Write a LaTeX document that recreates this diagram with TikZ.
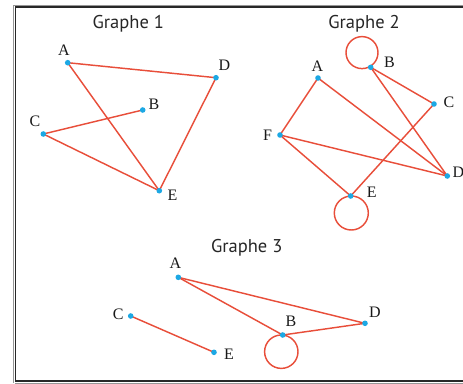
\documentclass[tikz,border=0pt]{standalone}
\usepackage{fontspec}
\setmainfont{Liberation Serif}
\newfontfamily\titlefont{PT Sans}
\definecolor{edgered}{RGB}{232,78,58}
\definecolor{dotblue}{RGB}{28,168,228}
\definecolor{framegray}{RGB}{150,150,150}
\definecolor{framedark}{RGB}{40,40,40}
\begin{document}
\begin{tikzpicture}[x=1pt,y=-1pt,
  vtx/.style={circle,inner sep=0pt,minimum size=5.6pt},
  lbl/.style={inner sep=0pt,font=\fontsize{16}{16}\selectfont,text=black!90},
  ttl/.style={inner sep=0pt,anchor=base,font=\titlefont\fontsize{18.5}{18.5}\selectfont,text=black!85},
  edge/.style={draw=edgered,line width=1.45pt}]
\useasboundingbox (0,0) rectangle (463,383);
% double frame
\draw[framegray,line width=1pt] (13,383) -- (13,5) -- (463,5);
\draw[framedark,line width=1.5pt] (15.3,381) -- (15.3,7) -- (463,7);
\draw[framedark,line width=1.5pt] (15.3,381) -- (463,381);
\draw[framegray,line width=1pt] (15.3,383) -- (463,383);

% ---------- Graphe 1 ----------
\node[ttl] (t1) at (128.3,28) {Graphe 1};
\node[vtx] (a1) at (67.7,62.7) {};
\node[vtx] (d1) at (216,77.7) {};
\node[vtx] (b1) at (142.7,110) {};
\node[vtx] (c1) at (43.3,134) {};
\node[vtx] (e1) at (159.3,190.7) {};
\node[lbl] (la1) at (64,50) {A};
\node[lbl] (ld1) at (224.5,65) {D};
\node[lbl] (lb1) at (154,104) {B};
\node[lbl] (lc1) at (35,121.5) {C};
\node[lbl] (le1) at (172.5,195.5) {E};
\draw[edge] (a1.center) -- (d1.center);
\draw[edge] (a1.center) -- (e1.center);
\draw[edge] (c1.center) -- (b1.center);
\draw[edge] (c1.center) -- (e1.center);
\draw[edge] (d1.center) -- (e1.center);

% ---------- Graphe 2 ----------
\node[ttl] (t2) at (364,28.3) {Graphe 2};
\node[vtx] (b2) at (370.7,67.3) {};
\node[vtx] (a2) at (318,78) {};
\node[vtx] (c2) at (434,104) {};
\node[vtx] (f2) at (280,135) {};
\node[vtx] (d2) at (447.3,176) {};
\node[vtx] (e2) at (350.7,196) {};
\node[lbl] (lb2) at (389.5,62) {B};
\node[lbl] (la2) at (317.5,66) {A};
\node[lbl] (lc2) at (449,102) {C};
\node[lbl] (lf2) at (267.5,135.7) {F};
\node[lbl] (ld2) at (458.5,172) {D};
\node[lbl] (le2) at (371.7,192) {E};
% loops at B and E
\draw[edge] (b2.center) ++(-8.7,-14.7) circle (16pt);
\draw[edge] (e2.center) ++(0.6,17) circle (17pt);
\draw[edge] (a2.center) -- (f2.center);
\draw[edge] (a2.center) -- (d2.center);
\draw[edge] (b2.center) -- (c2.center);
\draw[edge] (b2.center) -- (d2.center);
\draw[edge] (c2.center) -- (e2.center);
\draw[edge] (f2.center) -- (d2.center);
\draw[edge] (f2.center) -- (e2.center);

% ---------- Graphe 3 ----------
\node[ttl] (t3) at (246.7,252.3) {Graphe 3};
\node[vtx] (a3) at (178.3,277.3) {};
\node[vtx] (c3) at (130.7,316) {};
\node[vtx] (e3) at (214,352.3) {};
\node[vtx] (b3) at (282.7,335) {};
\node[vtx] (d3) at (365,323.3) {};
\node[lbl] (la3) at (175.5,263) {A};
\node[lbl] (lc3) at (118.3,314) {C};
\node[lbl] (le3) at (229,354.7) {E};
\node[lbl] (lb3) at (291,321) {B};
\node[lbl] (ld3) at (375,312) {D};
% loop at B
\draw[edge] (b3.center) ++(-1.4,16.7) circle (16.7pt);
\draw[edge] (a3.center) -- (b3.center);
\draw[edge] (a3.center) -- (d3.center);
\draw[edge] (b3.center) -- (d3.center);
\draw[edge] (c3.center) -- (e3.center);

% vertex dots drawn over the edges
\foreach \v in {a1,b1,c1,d1,e1,a2,b2,c2,d2,e2,f2,a3,b3,c3,d3,e3}
  \fill[dotblue] (\v) circle (2.8pt);
\end{tikzpicture}
\end{document}
